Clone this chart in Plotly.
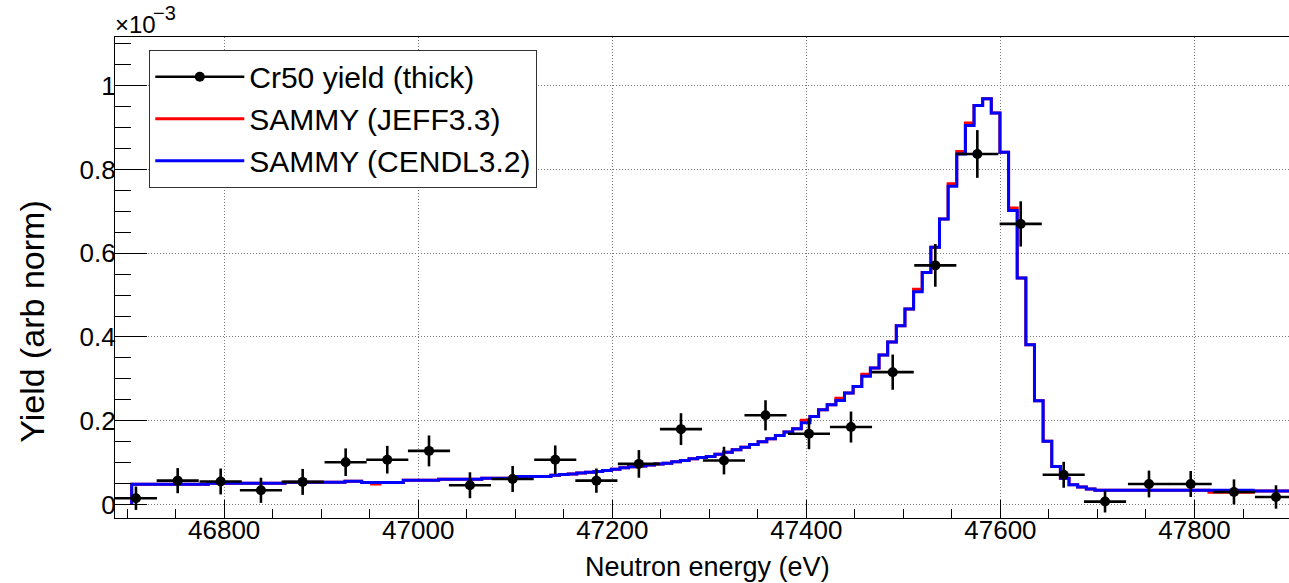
import plotly.graph_objects as go

# ---------------- data ----------------
# measured yield points (values in units of 1e-3)
data_energy_eV = [46709.1, 46752.1, 46796.4, 46837.9, 46880.9, 46925.2, 46968.1, 47011.1,
                  47053.3, 47097.3, 47141.2, 47183.6, 47227.4, 47270.8, 47315.1, 47357.9,
                  47402.7, 47446.0, 47489.0, 47532.9, 47576.2, 47620.9, 47665.2, 47707.8,
                  47753.1, 47796.1, 47840.7, 47884.0]
data_yield = [0.015, 0.057, 0.055, 0.034, 0.054, 0.101, 0.107, 0.128,
              0.046, 0.061, 0.107, 0.057, 0.097, 0.180, 0.105, 0.213,
              0.169, 0.185, 0.316, 0.571, 0.837, 0.670, 0.071, 0.007,
              0.049, 0.049, 0.030, 0.018]
data_yield_err = [0.028, 0.030, 0.031, 0.030, 0.031, 0.033, 0.033, 0.037,
                  0.031, 0.031, 0.034, 0.029, 0.033, 0.038, 0.033, 0.036,
                  0.037, 0.037, 0.042, 0.051, 0.057, 0.054, 0.031, 0.026,
                  0.032, 0.031, 0.030, 0.028]
data_half_bin_eV = 21.7

# SAMMY model histograms: bin left edges (last entry = right edge of last bin)
model_edges_eV = [46704.7, 46783.6, 46862.7, 46924.5, 46941.7, 46952.0, 46960.6, 46984.6,
                  47021.0, 47065.5, 47101.1, 47136.7, 47145.6, 47154.5, 47163.4, 47172.3,
                  47181.2, 47190.1, 47199.0, 47207.9, 47216.8, 47225.7, 47234.6, 47243.5,
                  47252.4, 47261.3, 47270.2, 47279.1, 47288.0, 47296.9, 47305.8, 47314.7,
                  47323.6, 47332.5, 47341.4, 47350.3, 47359.2, 47368.1, 47377.0, 47385.9,
                  47394.8, 47403.7, 47412.6, 47421.5, 47430.4, 47439.3, 47448.2, 47457.1,
                  47466.0, 47474.9, 47483.8, 47492.7, 47501.6, 47510.5, 47519.4, 47528.3,
                  47537.2, 47546.1, 47555.0, 47563.9, 47572.8, 47581.7, 47590.6, 47599.5,
                  47608.4, 47617.3, 47626.2, 47635.1, 47644.0, 47652.9, 47661.8, 47670.7,
                  47679.6, 47688.5, 47697.4, 47814.9, 47860.6, 47910.0]
cendl_yield = [0.0485, 0.051, 0.0533, 0.0556, 0.0524, 0.0524, 0.0524, 0.058,
               0.0604, 0.0628, 0.0667, 0.070, 0.0715, 0.073, 0.075, 0.077,
               0.0787, 0.081, 0.0843, 0.088, 0.090, 0.092, 0.0946, 0.097,
               0.0987, 0.102, 0.105, 0.109, 0.112, 0.1145, 0.120, 0.125,
               0.1305, 0.137, 0.143, 0.150, 0.157, 0.165, 0.173, 0.181,
               0.195, 0.210, 0.226, 0.238, 0.2485, 0.266, 0.282, 0.306,
               0.326, 0.357, 0.388, 0.427, 0.467, 0.508, 0.554, 0.614,
               0.682, 0.760, 0.837, 0.905, 0.953, 0.969, 0.935, 0.841,
               0.702, 0.541, 0.3816, 0.248, 0.151, 0.091, 0.063, 0.047,
               0.042, 0.037, 0.034, 0.034, 0.032]
jeff_yield = [0.0485, 0.051, 0.0533, 0.0556, 0.0524, 0.049, 0.0524, 0.058,
              0.0604, 0.0628, 0.0667, 0.070, 0.0715, 0.073, 0.075, 0.077,
              0.0787, 0.081, 0.0843, 0.088, 0.090, 0.092, 0.0946, 0.097,
              0.0987, 0.102, 0.105, 0.109, 0.112, 0.1145, 0.120, 0.125,
              0.1305, 0.137, 0.143, 0.150, 0.157, 0.165, 0.173, 0.181,
              0.201, 0.210, 0.226, 0.238, 0.254, 0.266, 0.282, 0.311,
              0.326, 0.357, 0.388, 0.427, 0.467, 0.514, 0.554, 0.614,
              0.682, 0.766, 0.843, 0.911, 0.953, 0.969, 0.935, 0.841,
              0.708, 0.541, 0.3816, 0.248, 0.151, 0.091, 0.063, 0.047,
              0.042, 0.037, 0.034, 0.0295, 0.032]

x_range_eV = [46687.5, 47897.4]
y_range = [-0.0322, 1.1163]
x_ticks = [46800, 47000, 47200, 47400, 47600, 47800]
x_tick_text = ["46800", "47000", "47200", "47400", "47600", "47800"]
y_ticks = [0, 0.2, 0.4, 0.6, 0.8, 1.0]
y_tick_text = ["0", "0.2", "0.4", "0.6", "0.8", "1"]

FONT = "Liberation Sans, Arial, Helvetica, sans-serif"


def step_arrays(edges, vals):
    xs = [edges[0]] + list(edges)
    ys = [0.0] + list(vals) + [vals[-1]]
    return xs, ys


fig = go.Figure()

jx, jy = step_arrays(model_edges_eV, jeff_yield)
fig.add_trace(go.Scatter(x=jx, y=jy, mode="lines", line=dict(color="#ff0000", width=3, shape="hv"),
                         name="SAMMY (JEFF3.3)", legendrank=2))
cx, cy = step_arrays(model_edges_eV, cendl_yield)
fig.add_trace(go.Scatter(x=cx, y=cy, mode="lines", line=dict(color="#0000ff", width=3, shape="hv"),
                         name="SAMMY (CENDL3.2)", legendrank=3))

fig.add_trace(go.Scatter(
    x=data_energy_eV, y=data_yield, mode="markers",
    marker=dict(color="black", size=10),
    error_y=dict(type="data", array=data_yield_err, color="black", thickness=2.6, width=0),
    error_x=dict(type="constant", value=data_half_bin_eV, color="black", thickness=2.6, width=0),
    showlegend=False, name="Cr50 yield (thick)"))
# legend entry for the data (line + marker like ROOT's "lep")
fig.add_trace(go.Scatter(x=[None], y=[None], mode="lines+markers",
                         line=dict(color="black", width=2.6), marker=dict(color="black", size=10),
                         name="Cr50 yield (thick)", legendrank=1))

grid = dict(showgrid=True, gridcolor="#7a7a7a", gridwidth=1, griddash="1px,2px")

fig.update_xaxes(range=x_range_eV, tickvals=x_ticks, ticktext=x_tick_text, ticks="inside", ticklen=18,
                 tickwidth=1.3, tickcolor="black", showline=True, linecolor="black", linewidth=1.3,
                 mirror=True, zeroline=False, tickfont=dict(family=FONT, size=26, color="black"),
                 ticklabelstandoff=-11,
                 minor=dict(dtick=50, tick0=46700, ticks="inside", ticklen=9, tickwidth=1.3,
                            tickcolor="black", showgrid=False),
                 **grid)
fig.update_yaxes(range=y_range, tickvals=y_ticks, ticktext=y_tick_text, ticks="inside", ticklen=32,
                 tickwidth=1.3, tickcolor="black", showline=True, linecolor="black", linewidth=1.3,
                 mirror=True, zeroline=False, tickfont=dict(family=FONT, size=26, color="black"),
                 ticklabelstandoff=-7,
                 minor=dict(dtick=0.05, tick0=0, ticks="inside", ticklen=16, tickwidth=1.3,
                            tickcolor="black", showgrid=False),
                 **grid)

fig.update_layout(
    width=1289, height=583,
    margin=dict(l=115, r=0, t=37, b=65, autoexpand=False),
    paper_bgcolor="white", plot_bgcolor="white",
    font=dict(family=FONT, color="black"),
    showlegend=True,
    legend=dict(x=0.0292, y=0.9736, xanchor="left", yanchor="top",
                bgcolor="white", bordercolor="#333333", borderwidth=1,
                font=dict(family=FONT, size=30, color="black"), itemwidth=89,
                traceorder="normal"),
    annotations=[
        dict(text="Neutron energy (eV)", xref="paper", yref="paper", x=0.5051, y=-0.1012,
             xanchor="center", yanchor="middle", showarrow=False,
             font=dict(family=FONT, size=27, color="black")),
        dict(text="Yield (arb norm)", xref="paper", yref="paper", x=-0.0707, y=0.408,
             xanchor="center", yanchor="middle", textangle=-90, showarrow=False,
             font=dict(family=FONT, size=34, color="black")),
        dict(text="×10", xref="paper", yref="paper", x=-0.002, y=1.0262,
             xanchor="left", yanchor="middle", showarrow=False,
             font=dict(family=FONT, size=24, color="black")),
        dict(text="−3", xref="paper", yref="paper", x=0.0305, y=1.0503,
             xanchor="left", yanchor="middle", showarrow=False,
             font=dict(family=FONT, size=20, color="black")),
    ],
)

fig.write_html("out.html", config={"displayModeBar": False},
               post_script="document.body.style.margin='0px';document.body.style.overflow='hidden';")
